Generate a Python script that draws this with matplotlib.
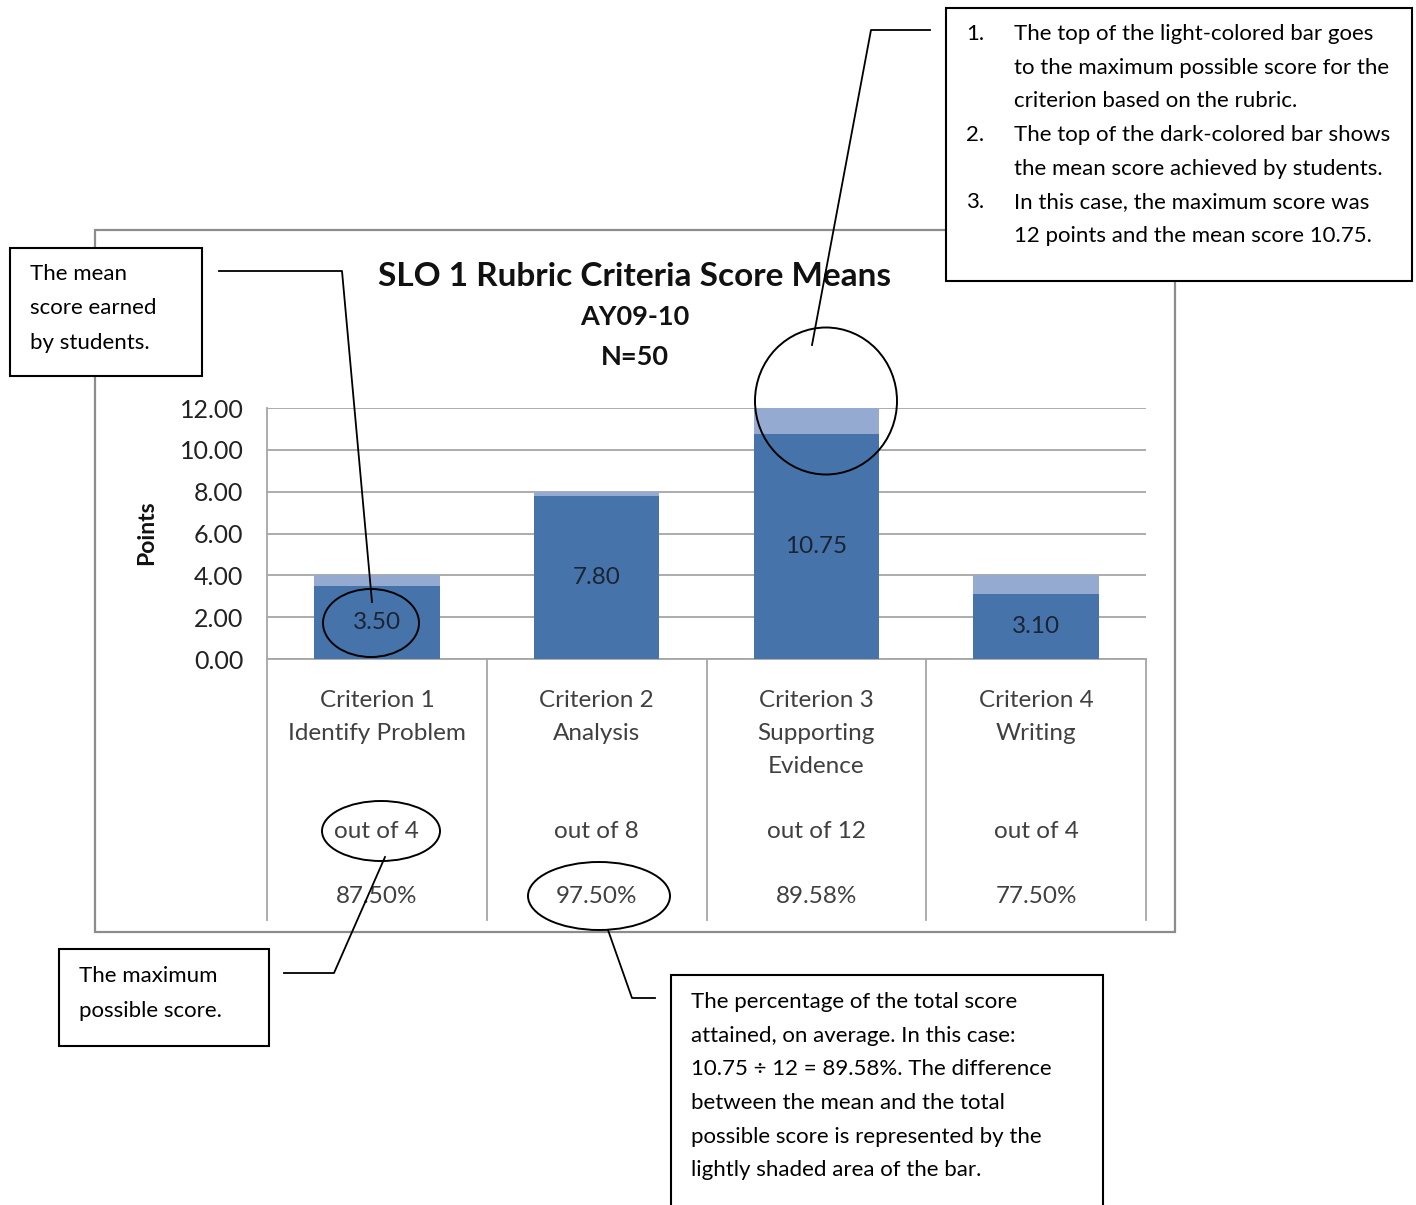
import matplotlib.pyplot as plt
import matplotlib.patches as mpatches
import numpy as np

plt.rcParams['font.family'] = ['Lato', 'DejaVu Sans']

# data
criteria = ["Criterion 1\nIdentify Problem", "Criterion 2\nAnalysis",
            "Criterion 3\nSupporting\nEvidence", "Criterion 4\nWriting"]
max_score = [4, 8, 12, 4]
mean_score = [3.50, 7.80, 10.75, 3.10]
out_of = ["out of 4", "out of 8", "out of 12", "out of 4"]
percent = ["87.50%", "97.50%", "89.58%", "77.50%"]
yticks = [0, 2, 4, 6, 8, 10, 12]

W, H = 1416, 1205
fig = plt.figure(figsize=(W / 100, H / 100), dpi=100)

# pixel box -> figure fraction
def fbox(x0, y0, x1, y1):
    return [x0 / W, 1 - y1 / H, (x1 - x0) / W, (y1 - y0) / H]

# background layer: chart border + titles
bg = fig.add_axes([0, 0, 1, 1], zorder=0)
bg.set_xlim(0, W)
bg.set_ylim(H, 0)
bg.axis('off')
bg.add_patch(mpatches.Rectangle((95, 230), 1080, 702, fill=False,
                                edgecolor='#8c8c8c', lw=1.6))
bg.text(635, 276, "SLO 1 Rubric Criteria Score Means", ha='center', va='center',
        fontsize=24, fontweight='bold', color='#111111')
bg.text(635, 317, "AY09-10", ha='center', va='center', fontsize=19.5,
        fontweight='bold', color='#111111')
bg.text(635, 357, "N=50", ha='center', va='center', fontsize=19.5,
        fontweight='bold', color='#111111')
bg.text(147, 533, "Points", ha='center', va='center', rotation=90,
        fontsize=16.5, fontweight='bold', color='#111111')

# main chart
ax = fig.add_axes(fbox(267, 408, 1146, 659), zorder=1)
ax.patch.set_alpha(0)
x = np.arange(len(criteria))
ax.bar(x, max_score, width=0.57, color='#95AAD0', zorder=2)
ax.bar(x, mean_score, width=0.57, color='#4674AA', zorder=3)
for xi, m in zip(x, mean_score):
    ax.text(xi, m / 2, f"{m:.2f}", ha='center', va='center', fontsize=17.5,
            color='#1a2433', zorder=4)

ax.set_xlim(-0.5, 3.5)
ax.set_ylim(0, 12)
ax.set_yticks(yticks)
ax.set_yticklabels([f"{v:.2f}" for v in yticks], fontsize=18, color='#222222')
ax.tick_params(axis='y', length=0, pad=17)
ax.set_xticks([])
ax.grid(axis='y', color='#a6a6a6', lw=1.3, zorder=1)
ax.set_axisbelow(True)
for s in ['top', 'right']:
    ax.spines[s].set_visible(False)
for s in ['left', 'bottom']:
    ax.spines[s].set_color('#a6a6a6')
    ax.spines[s].set_linewidth(1.3)

# table under the axis
tr = ax.get_xaxis_transform()
def ay(ypx):
    return (659 - ypx) / 251

for b in np.arange(-0.5, 4.0, 1.0):
    ax.plot([b, b], [0, ay(920)], transform=tr, color='#a6a6a6', lw=1.3,
            clip_on=False)
for xi, name, o, p in zip(x, criteria, out_of, percent):
    for k, line in enumerate(name.split("\n")):
        ax.text(xi, ay(700 + 33 * k), line, transform=tr, ha='center',
                va='center', fontsize=17.5, color='#404040')
    ax.text(xi, ay(831), o, transform=tr, ha='center', va='center',
            fontsize=17.5, color='#404040')
    ax.text(xi, ay(896), p, transform=tr, ha='center', va='center',
            fontsize=17.5, color='#404040')

# callouts on top
ov = fig.add_axes([0, 0, 1, 1], zorder=2)
ov.set_xlim(0, W)
ov.set_ylim(H, 0)
ov.axis('off')
ov.patch.set_alpha(0)

def box(x0, y0, x1, y1):
    ov.add_patch(mpatches.Rectangle((x0, y0), x1 - x0, y1 - y0, facecolor='white',
                                    edgecolor='black', lw=1.5, zorder=5))

def ring(cx, cy, w, h):
    ov.add_patch(mpatches.Ellipse((cx, cy), w, h, fill=False, edgecolor='black',
                                  lw=1.4, zorder=6))

def leader(xs, ys):
    ov.plot(xs, ys, color='black', lw=1.3, zorder=6)

fs = 16
# mean score callout
box(10, 248, 202, 376)
for k, t in enumerate(["The mean", "score earned", "by students."]):
    ov.text(30, 274 + 34.5 * k, t, va='center', fontsize=fs, zorder=7)
ring(371, 623, 96, 68)
leader([219, 342, 372], [271, 271, 602])

# numbered list callout
box(946, 8, 1412, 281)
notes = [("1.", "The top of the light-colored bar goes"),
         ("", "to the maximum possible score for the"),
         ("", "criterion based on the rubric."),
         ("2.", "The top of the dark-colored bar shows"),
         ("", "the mean score achieved by students."),
         ("3.", "In this case, the maximum score was"),
         ("", "12 points and the mean score 10.75.")]
for k, (n, t) in enumerate(notes):
    yy = 34 + 33.7 * k
    if n:
        ov.text(966, yy, n, va='center', fontsize=fs, zorder=7)
    ov.text(1014, yy, t, va='center', fontsize=fs, zorder=7)
ring(826, 401, 142, 147)
leader([930, 871, 812], [30, 30, 345])

# maximum score callout
box(59, 949, 269, 1046)
for k, t in enumerate(["The maximum", "possible score."]):
    ov.text(79, 976 + 35 * k, t, va='center', fontsize=fs, zorder=7)
ring(381, 831, 118, 60)
leader([284, 334, 385], [973, 973, 857])

# percentage callout
box(671, 975, 1103, 1215)
pct_note = ["The percentage of the total score",
            "attained, on average. In this case:",
            "10.75 \u00f7 12 = 89.58%. The difference",
            "between the mean and the total",
            "possible score is represented by the",
            "lightly shaded area of the bar."]
for k, t in enumerate(pct_note):
    ov.text(691, 1002 + 33.7 * k, t, va='center', fontsize=fs, zorder=7)
ring(599, 896, 142, 68)
leader([608, 632, 655], [930, 998, 998])

fig.savefig("out.png", dpi=100)
